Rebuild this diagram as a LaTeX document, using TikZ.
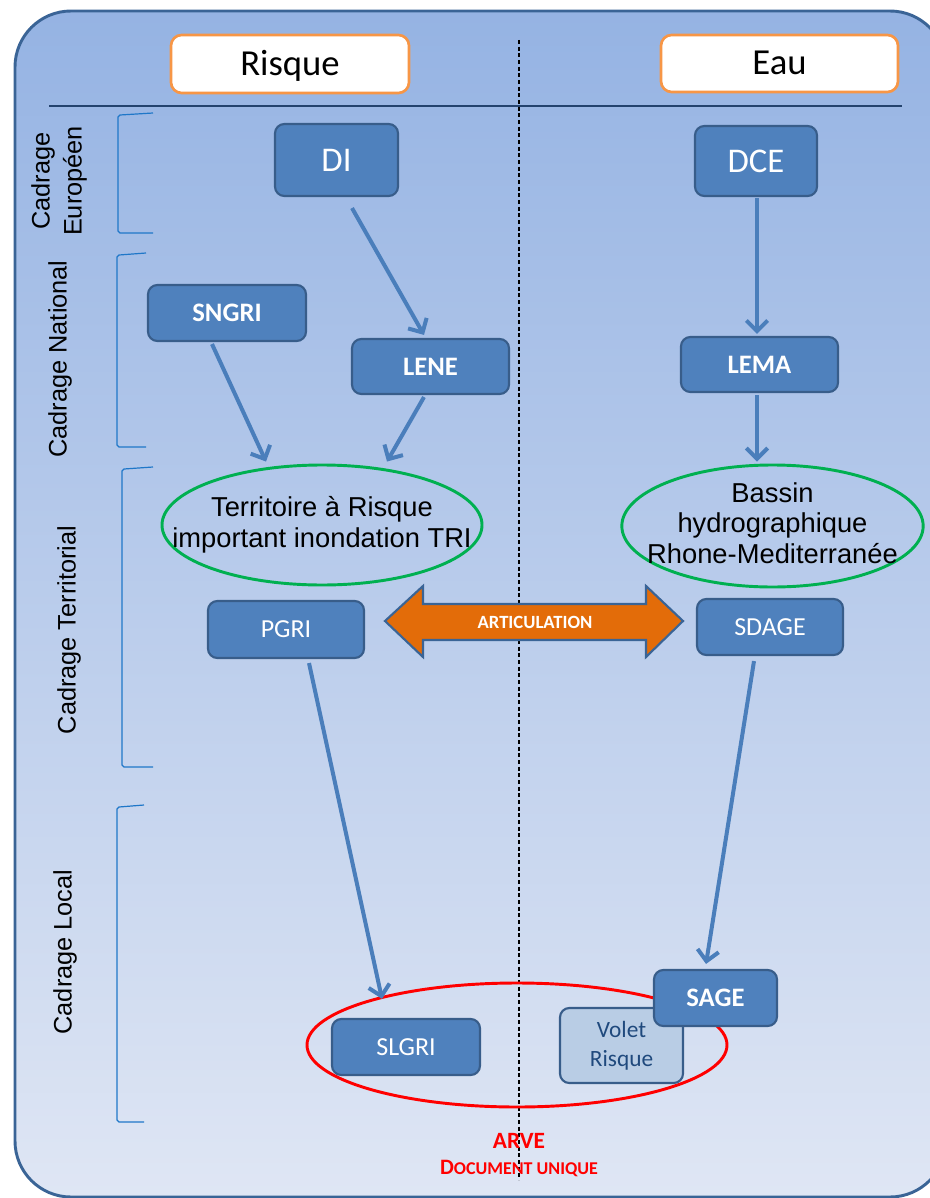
\documentclass[tikz,border=0pt]{standalone}
\usepackage{fontspec}
\setmainfont{Carlito}
\newfontfamily\arial{Liberation Sans}
\usetikzlibrary{arrows.meta,calc,shapes.geometric}
\definecolor{bgtop}{HTML}{95B3E3}
\definecolor{bgbot}{HTML}{DFE6F4}
\definecolor{frame}{HTML}{3A6496}
\definecolor{boxblue}{HTML}{4F81BD}
\definecolor{boxedge}{HTML}{385D8A}
\definecolor{arrblue}{HTML}{4A7EBB}
\definecolor{hdrorange}{HTML}{F79646}
\definecolor{brk}{HTML}{1F77C8}
\definecolor{ellgreen}{HTML}{00B050}
\definecolor{artorange}{HTML}{E36C09}
\definecolor{voletfill}{HTML}{B9CDE5}
\definecolor{volettext}{HTML}{1F497D}
\definecolor{navy}{HTML}{24436E}
\begin{document}
\begin{tikzpicture}[x=0.75pt,y=-0.75pt,
  hdr/.style={draw=hdrorange,line width=2pt,fill=white,rounded corners=8pt,
    font=\fontsize{27.5}{32}\selectfont,inner sep=0pt,text height=19pt,text depth=2pt},
  bbox/.style={draw=boxedge,line width=1.6pt,fill=boxblue,rounded corners=7pt,
    text=white,inner sep=0pt},
  bigtxt/.style={font=\fontsize{26}{30}\selectfont},
  boldtxt/.style={font=\bfseries\fontsize{20}{24}\selectfont},
  regtxt/.style={font=\fontsize{19.5}{24}\selectfont},
  ell/.style={ellipse,draw=ellgreen,line width=2.2pt,inner sep=0pt},
  elltxt/.style={font=\arial\fontsize{20.5}{23}\selectfont,align=center},
  lbl/.style={rotate=90,align=center,font=\arial\fontsize{19}{24}\selectfont},
  brkline/.style={draw=brk,line width=0.9pt},
  arr/.style={draw=arrblue,line width=3pt,-{Straight Barb[length=8pt,width=16pt]}}]
\useasboundingbox (0,0) rectangle (930,1198);
% background container
\path[top color=bgtop,bottom color=bgbot,draw=frame,line width=2.2pt,rounded corners=42pt]
  (15,11) rectangle (946,1197);
% header line and divider
\draw[draw=navy,line width=1.6pt] (49,106) -- (902,106);
\draw[dashed,dash pattern=on 3pt off 2pt,line width=0.8pt] (519,40) -- (519,1180);
% headers
\node[hdr,minimum width=178.5pt,minimum height=43.5pt] (risque) at (290,64) {Risque};
\node[hdr,minimum width=177.75pt,minimum height=42.75pt] (eau) at (779.5,63.5) {Eau};
% brackets
\draw[brkline] (153,113) -- (120,115) -- (118,117) -- (118,231) -- (120,233) -- (153,233);
\draw[brkline] (146,253) -- (119,255) -- (117,257) -- (117,445) -- (119,447) -- (146,447);
\draw[brkline] (153,467) -- (124,469) -- (122,471) -- (122,765) -- (124,767) -- (153,767);
\draw[brkline] (144,805) -- (119,807) -- (117,809) -- (117,1120) -- (119,1122) -- (144,1122);
% side labels
\node[lbl] (leu) at (59,181) {Cadrage\\Européen};
\node[lbl] (lna) at (60,359) {Cadrage National};
\node[lbl] (lte) at (69,630) {Cadrage Territorial};
\node[lbl] (llo) at (65,952) {Cadrage Local};
% red ellipse
\node[ellipse,draw=red,line width=2.2pt,minimum width=315pt,minimum height=93pt,inner sep=0pt] (arve) at (517,1045) {};
% boxes
\node[bbox,bigtxt,minimum width=92.25pt,minimum height=54pt] (di) at (336.5,160) {DI};
\node[bbox,bigtxt,minimum width=91.5pt,minimum height=52.5pt] (dce) at (756,161) {DCE};
\node[bbox,boldtxt,minimum width=118.5pt,minimum height=42pt] (sngri) at (227,313) {SNGRI};
\node[bbox,boldtxt,minimum width=117.75pt,minimum height=41.25pt] (lene) at (430.5,366.5) {LENE};
\node[bbox,boldtxt,minimum width=117.75pt,minimum height=41.25pt] (lema) at (759.5,364.5) {LEMA};
\node[bbox,regtxt,minimum width=117pt,minimum height=42.75pt] (pgri) at (286,629.5) {PGRI};
\node[bbox,regtxt,minimum width=109.5pt,minimum height=42pt] (sdage) at (770,627) {SDAGE};
\node[bbox,regtxt,minimum width=111pt,minimum height=42pt] (slgri) at (406,1047) {SLGRI};
\node[bbox,fill=voletfill,text=volettext,align=center,font=\fontsize{17.5}{21.5}\selectfont,
  minimum width=92.25pt,minimum height=56.25pt] (volet) at (621.5,1045.5) {Volet\\Risque};
\node[bbox,boldtxt,minimum width=92.25pt,minimum height=42pt] (sage) at (715.5,998) {SAGE};
% ellipses
\node[ell,minimum width=240pt,minimum height=90pt] (tri) at (322,525) {};
\node[elltxt] (tritxt) at (tri.center) {Territoire à Risque\\important inondation TRI};
\node[ell,minimum width=226pt,minimum height=91.5pt] (bassin) at (772.5,526) {};
\node[elltxt] (bassintxt) at ($(bassin.center)+(0,-3)$) {Bassin\\hydrographique\\Rhone-Mediterranée};
% articulation double arrow
\path[fill=artorange,draw=frame,line width=1.6pt,line join=miter]
  (385,621) -- (423,586) -- (423,604) -- (646,604) -- (646,586) -- (683,621)
  -- (646,657) -- (646,640) -- (423,640) -- (423,657) -- cycle;
\node[text=white,font=\bfseries\fontsize{14}{16}\selectfont] (artic) at (535,622) {ARTICULATION};
% connectors
\draw[arr] ($(di.south)+(15.5,11)$) -- ($(lene.north)+(-6.5,-3)$);
\draw[arr] ($(dce.south)+(1,1)$) -- ($(lema.north)+(-2.5,-2)$);
\draw[arr] ($(sngri.south)+(-15,2)$) -- ($(tri.north)+(-56,-2)$);
\draw[arr] ($(lene.south)+(-6.5,2)$) -- ($(tri.north)+(65,-2)$);
\draw[arr] ($(lema.south)+(-2.5,2)$) -- ($(bassin.north)+(-15.5,-2)$);
\draw[arr] ($(pgri.south)+(23,4)$) -- ($(slgri.north)+(-24,-19)$);
\draw[arr] ($(sdage.south)+(-16,5)$) -- ($(sage.north)+(-9.5,-5)$);
% bottom caption
\node[text=red,font=\bfseries\fontsize{17.5}{20}\selectfont] (arvetxt) at (519,1141) {ARVE};
\node[text=red,font=\bfseries] (doc) at (519,1168)
  {{\fontsize{16.5}{19}\selectfont D}{\fontsize{13.5}{16}\selectfont OCUMENT UNIQUE}};
\end{tikzpicture}
\end{document}
